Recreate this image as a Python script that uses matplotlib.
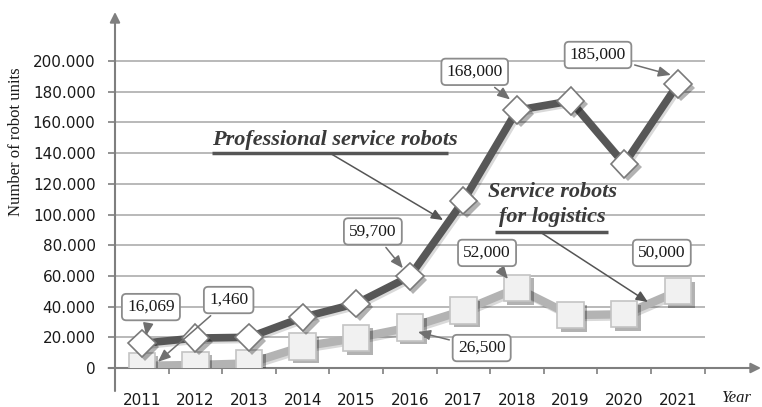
import matplotlib
matplotlib.use("Agg")
import matplotlib.pyplot as plt
import matplotlib.patheffects as pe

years = ["2011", "2012", "2013", "2014", "2015", "2016", "2017", "2018", "2019", "2020", "2021"]
professional = [16069, 19500, 20000, 33000, 42000, 59700, 109000, 168000, 174000, 133000, 185000]
logistics = [1460, 2000, 3000, 14000, 19500, 26500, 37500, 52000, 34500, 35000, 50000]
yticks = [0, 20000, 40000, 60000, 80000, 100000, 120000, 140000, 160000, 180000, 200000]
ytick_labels = ["0", "20.000", "40.000", "60.000", "80.000", "100.000", "120.000",
                "140.000", "160.000", "180.000", "200.000"]

serif = ["Liberation Serif", "DejaVu Serif"]
W, H = 762, 407
fig = plt.figure(figsize=(W / 100, H / 100), dpi=100)
ax = fig.add_axes([115 / W, (H - 368) / H, 646 / W, 356 / H])
ax.set_xlim(-0.5, 11.55)
ax.set_ylim(0, 232000)
for s in ax.spines.values():
    s.set_visible(False)

xs = list(range(len(years)))
axis_col = "#7f7f7f"

# gridlines
ax.hlines(yticks[1:], -0.5, 10.5, colors="#a6a6a6", lw=1.1, zorder=1)

# axis lines with arrows
ax.annotate("", xy=(11.55, 0), xytext=(-0.62, 0),
            arrowprops=dict(arrowstyle="-|>,head_length=0.6,head_width=0.3", color=axis_col, lw=1.5,
                            shrinkA=0, shrinkB=0), annotation_clip=False, zorder=2)
ax.annotate("", xy=(-0.5, 232000), xytext=(-0.5, -15000),
            arrowprops=dict(arrowstyle="-|>,head_length=0.6,head_width=0.3", color=axis_col, lw=1.5,
                            shrinkA=0, shrinkB=0), annotation_clip=False, zorder=2)

# ticks
ax.set_yticks(yticks)
ax.set_yticklabels(ytick_labels)
ax.tick_params(axis="y", length=5, color=axis_col, width=1.2, pad=9, labelsize=11, labelcolor="#1a1a1a")
ax.set_xticks(xs)
ax.set_xticklabels(years)
ax.tick_params(axis="x", length=0, pad=18, labelsize=11, labelcolor="#1a1a1a")
ax.set_xticks([i - 0.5 for i in range(12)], minor=True)
ax.tick_params(axis="x", which="minor", length=4, color=axis_col, width=1.2, direction="out")

# lines
shadow = [pe.SimpleLineShadow(offset=(1.5, -1.5), shadow_color="black", alpha=0.15), pe.Normal()]
ax.plot(xs, logistics, color="#b3b3b3", lw=6, zorder=3, solid_joinstyle="miter",
        path_effects=shadow)
ax.plot(xs, professional, color="#575757", lw=5.5, zorder=4, solid_joinstyle="miter",
        path_effects=shadow)

mshadow = [pe.SimplePatchShadow(offset=(2.5, -2.5), shadow_rgbFace="black", alpha=0.3), pe.Normal()]
ax.plot(xs, logistics, ls="none", marker="s", ms=19, mfc="#f1f1f1", mec="#c4c4c4", mew=1.2,
        zorder=5, path_effects=mshadow)
ax.plot(xs, professional, ls="none", marker="D", ms=14, mfc="white", mec="#7a7a7a", mew=1.2,
        zorder=6, path_effects=mshadow)

# value callouts
box = dict(boxstyle="round,pad=0.3,rounding_size=0.25", fc="white", ec="#8c8c8c", lw=1.3)
arrow = dict(arrowstyle="-|>,head_length=0.6,head_width=0.25", color="#6f6f6f", lw=1.1, shrinkB=0)
callouts = [
    ("16,069", (0.17, 39700), (0.08, 21000), True),
    ("1,460", (1.62, 44300), (0.30, 4000), True),
    ("59,700", (4.31, 89000), (4.87, 65000), True),
    ("168,000", (6.21, 193000), (6.87, 175000), True),
    ("185,000", (8.51, 204000), (9.87, 191000), True),
    ("52,000", (6.44, 75000), (6.83, 58000), True),
    ("50,000", (9.70, 75000), (9.70, 75000), False),
    ("26,500", (6.34, 13000), (5.15, 23500), True),
]
for txt, pos, tip, has_arrow in callouts:
    ax.annotate(txt, xy=tip, xytext=pos, ha="center", va="center",
                fontsize=12.5, family=serif, color="#1a1a1a", bbox=box,
                arrowprops=arrow if has_arrow else None, zorder=8, annotation_clip=False)

# series labels
lab_col = "#3a3a3a"
ax.text(1.31, 148500, "Professional service robots", ha="left", va="center",
        fontsize=16, family=serif, style="italic", weight="bold", color=lab_col, zorder=7)
ax.plot([1.31, 5.71], [140000, 140000], color="#555555", lw=2.5, zorder=7, solid_capstyle="butt")
ax.annotate("", xy=(5.62, 96400), xytext=(3.51, 140000),
            arrowprops=dict(arrowstyle="-|>,head_length=0.7,head_width=0.3", color="#555555",
                            lw=1.1, shrinkA=0, shrinkB=0), zorder=7)

ax.text(7.67, 114700, "Service robots", ha="center", va="center",
        fontsize=16, family=serif, style="italic", weight="bold", color=lab_col, zorder=7)
ax.text(7.65, 98200, "for logistics", ha="center", va="center",
        fontsize=16, family=serif, style="italic", weight="bold", color=lab_col, zorder=7)
ax.plot([6.59, 8.69], [88600, 88600], color="#555555", lw=2.5, zorder=7, solid_capstyle="butt")
ax.annotate("", xy=(9.44, 43000), xytext=(7.43, 88600),
            arrowprops=dict(arrowstyle="-|>,head_length=0.7,head_width=0.3", color="#555555",
                            lw=1.1, shrinkA=0, shrinkB=0), zorder=7)

# axis titles
fig.text(16 / W, 1 - 142 / H, "Number of robot units", rotation=90, ha="center", va="center",
         fontsize=12, family=serif, color="#1a1a1a")
ax.text(11.08, -19500, "Year", ha="center", va="center", fontsize=12, family=serif,
        style="italic", color="#1a1a1a", clip_on=False)

fig.savefig("out.png", dpi=100)
